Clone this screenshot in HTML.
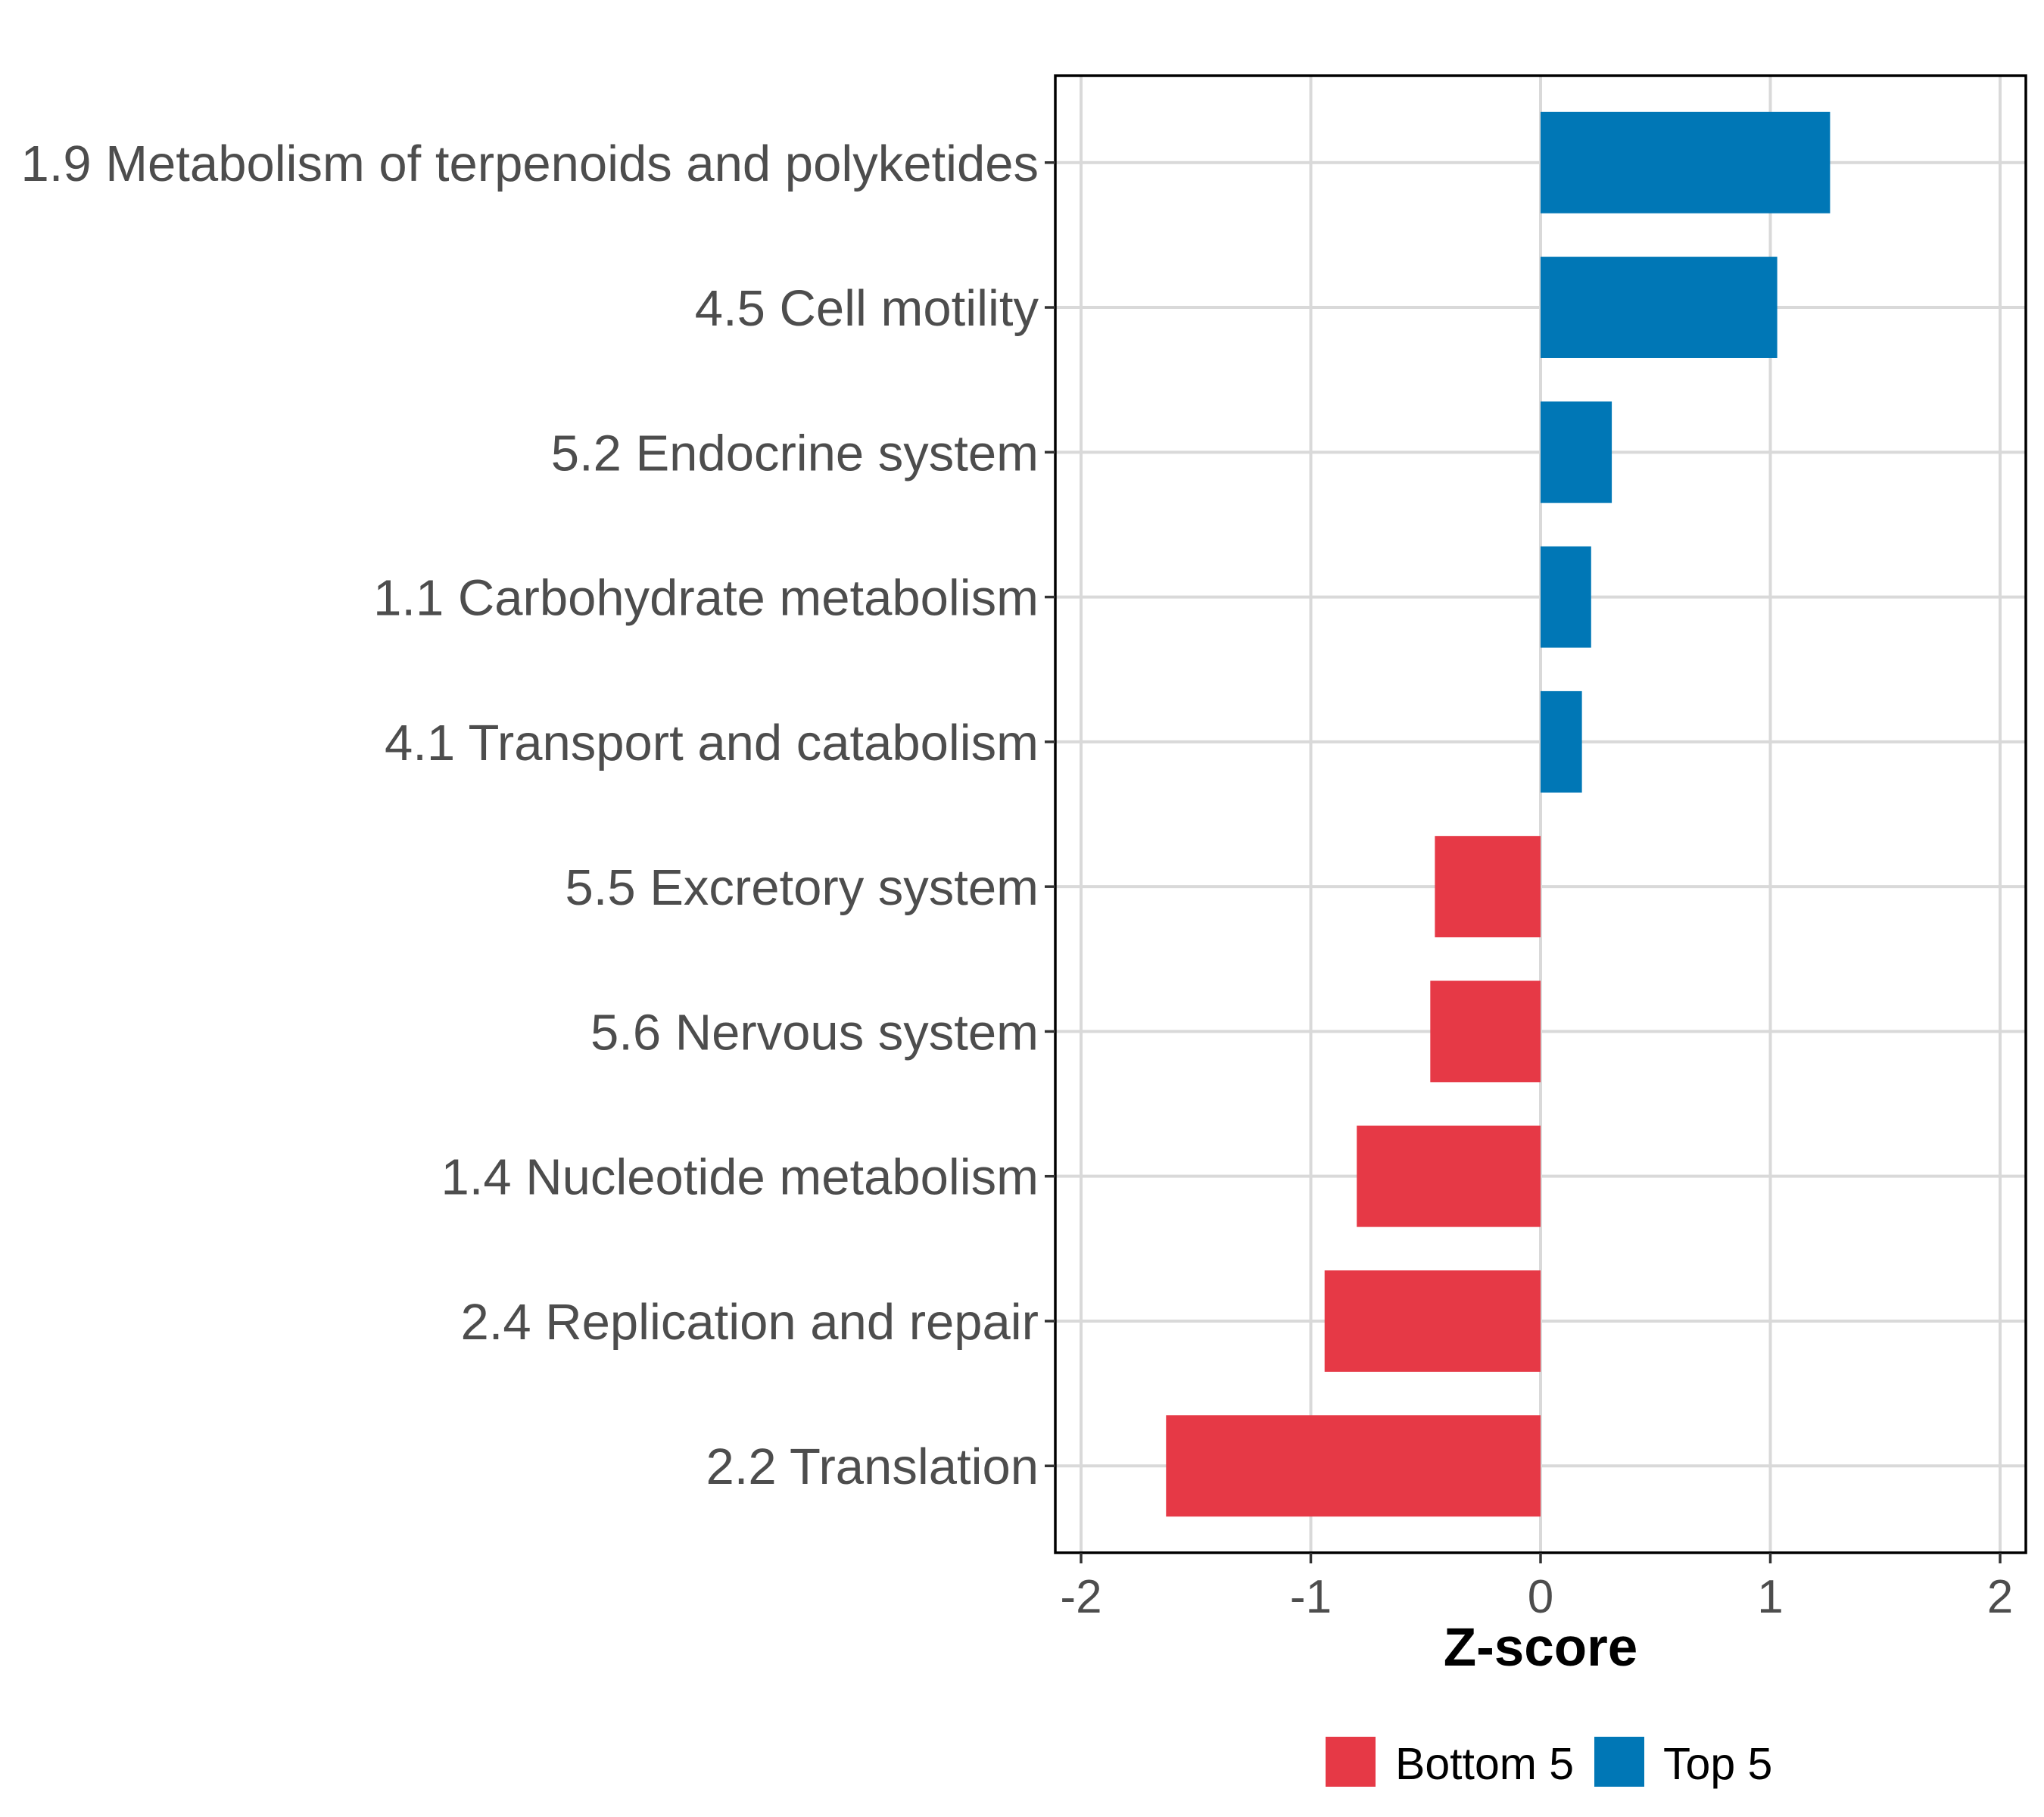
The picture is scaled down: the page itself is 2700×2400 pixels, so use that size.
<!DOCTYPE html>
<html><head><meta charset="utf-8"><style>
html,body{margin:0;padding:0;background:#fff;}
svg{display:block;}
text{font-family:"Liberation Sans",Arial,sans-serif;}
</style></head><body>
<svg id="chart" width="2700" height="2400" xmlns="http://www.w3.org/2000/svg">
<g id="grid"></g>
<g id="bars"></g>
<rect x="1394" y="100" width="1282" height="1951" fill="none" stroke="#000" stroke-width="3.5"/>
<g id="yaxis"></g>
<g id="xaxis"></g>
<text x="2035" y="2200" text-anchor="middle" font-size="71" font-weight="bold" fill="#000">Z-score</text>
<g>
<rect x="1751" y="2294" width="66" height="66" fill="#E63946"/>
<text x="1843" y="2350" font-size="59" fill="#000">Bottom 5</text>
<rect x="2106" y="2294" width="66" height="66" fill="#0077B6"/>
<text x="2197" y="2350" font-size="59" fill="#000">Top 5</text>
</g>
</svg>
<script>
const categories = ["1.9 Metabolism of terpenoids and polyketides","4.5 Cell motility","5.2 Endocrine system","1.1 Carbohydrate metabolism","4.1 Transport and catabolism","5.5 Excretory system","5.6 Nervous system","1.4 Nucleotide metabolism","2.4 Replication and repair","2.2 Translation"];
const zscores = [1.26, 1.03, 0.31, 0.22, 0.18, -0.46, -0.48, -0.80, -0.94, -1.63];
const groups = ["Top 5","Top 5","Top 5","Top 5","Top 5","Bottom 5","Bottom 5","Bottom 5","Bottom 5","Bottom 5"];
const xTicks = [-2, -1, 0, 1, 2];
const xTickLabels = ["-2","-1","0","1","2"];

const NS = "http://www.w3.org/2000/svg";
const plotLeft = 1394, plotRight = 2676, plotTop = 100, plotBottom = 2051;
const xScale = v => 2035 + v * 303.5;
const step = (plotBottom - plotTop) / (categories.length - 1 + 1.2);
const yScale = i => plotTop + 0.6 * step + i * step;
const colors = {"Top 5": "#0077B6", "Bottom 5": "#E63946"};
function mk(tag, attrs, parent) {
  const e = document.createElementNS(NS, tag);
  for (const k in attrs) e.setAttribute(k, attrs[k]);
  parent.appendChild(e);
  return e;
}
const gridG = document.getElementById('grid');
const barsG = document.getElementById('bars');
const yaxisG = document.getElementById('yaxis');
const xaxisG = document.getElementById('xaxis');
xTicks.forEach((t, i) => {
  const g = mk('line', {x1: xScale(t), x2: xScale(t), y1: plotTop, y2: plotBottom, stroke: '#d9d9d9', 'stroke-width': 4}, gridG);
  
  
  const tk = mk('line', {x1: xScale(t), x2: xScale(t), y1: plotBottom, y2: plotBottom + 14, stroke: '#333', 'stroke-width': 3.5}, xaxisG);
  
  
  const tl = mk('text', {x: xScale(t), y: 2130, 'text-anchor': 'middle', 'font-size': 62, fill: '#4d4d4d'}, xaxisG);
  tl.textContent = xTickLabels[i];
  
  
});
categories.forEach((c, i) => {
  const cy = yScale(i);
  const g = mk('line', {x1: plotLeft, x2: plotRight, y1: cy, y2: cy, stroke: '#d9d9d9', 'stroke-width': 4}, gridG);
  
  
  const v = zscores[i];
  const h = step * 0.7;
  const b = mk('rect', {x: Math.min(xScale(0), xScale(v)), y: cy - h / 2, width: Math.abs(xScale(v) - xScale(0)), height: h, fill: colors[groups[i]]}, barsG);
  
  
  const tk = mk('line', {x1: plotLeft - 14, x2: plotLeft, y1: cy, y2: cy, stroke: '#333', 'stroke-width': 3.5}, yaxisG);
  
  
  const tl = mk('text', {x: 1372, y: cy + 24, 'text-anchor': 'end', 'font-size': 67, fill: '#4d4d4d'}, yaxisG);
  tl.textContent = c;
  
  
});
</script>
</body></html>
